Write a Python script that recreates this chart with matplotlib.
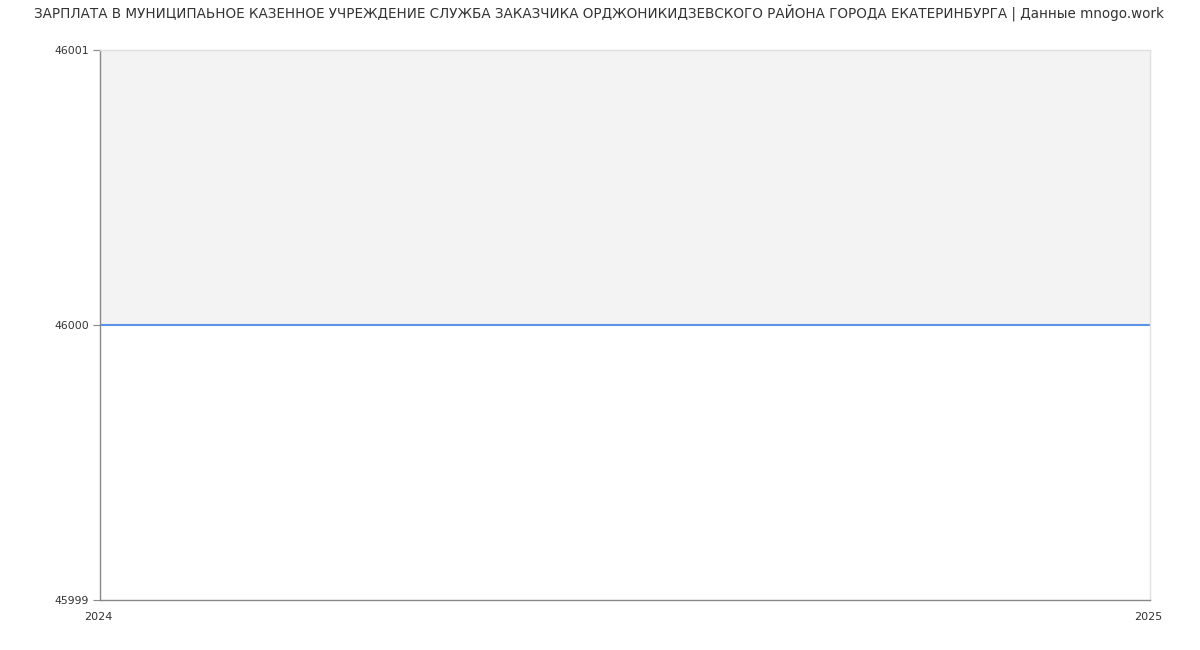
import matplotlib
matplotlib.use("Agg")
import matplotlib.pyplot as plt
import matplotlib.transforms as mtransforms

title = "ЗАРПЛАТА В МУНИЦИПАЬНОЕ КАЗЕННОЕ УЧРЕЖДЕНИЕ СЛУЖБА ЗАКАЗЧИКА ОРДЖОНИКИДЗЕВСКОГО РАЙОНА ГОРОДА ЕКАТЕРИНБУРГА | Данные mnogo.work"
years = [2024, 2025]
salary = [46000, 46000]
y_ticks = [45999, 46000, 46001]
x_labels = ["2024", "2025"]

fig = plt.figure(figsize=(12, 6.5), dpi=100)
ax = fig.add_axes([100/1200, 1-600/650, 1050/1200, 550/650])

ax.fill_between(years, salary, y_ticks[-1], color="#f3f3f3", linewidth=0)
ax.plot(years, salary, color="#5b93e6", linewidth=1.5)

ax.set_xlim(years[0], years[-1])
ax.set_ylim(y_ticks[0], y_ticks[-1])
ax.set_yticks(y_ticks)
ax.set_yticklabels([str(v) for v in y_ticks])
ax.set_xticks(years)
ax.set_xticklabels(x_labels)

ax.tick_params(axis="y", length=5, color="#888888", labelsize=7.8, labelcolor="#333333", pad=3)
ax.tick_params(axis="x", length=0, labelsize=8, labelcolor="#333333", pad=9)

offset = mtransforms.ScaledTranslation(-2/100, 0, fig.dpi_scale_trans)
for lbl in ax.get_xticklabels():
    lbl.set_transform(lbl.get_transform() + offset)

for s in ["left", "bottom"]:
    ax.spines[s].set_color("#888888")
    ax.spines[s].set_linewidth(1)
for s in ["top", "right"]:
    ax.spines[s].set_color("#e0e0e0")
    ax.spines[s].set_linewidth(1)

fig.text(0.5 - 1/1200, 1-14/650, title, ha="center", va="center", fontsize=9.72, color="#333333")

fig.savefig("out.png", dpi=100)
